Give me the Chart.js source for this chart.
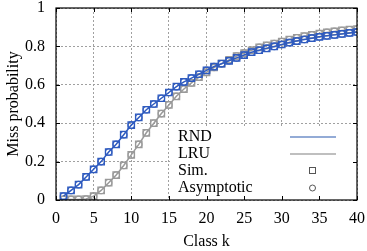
<!DOCTYPE html>
<html>
<head>
<meta charset="utf-8">
<script src="https://cdn.jsdelivr.net/npm/chart.js@4/dist/chart.umd.min.js"></script>
<style>
  html, body { margin: 0; padding: 0; background: #fff; }
  #wrap { width: 367px; height: 251px; }
</style>
</head>
<body>
<div id="wrap"><canvas id="missChart"></canvas></div>
<script>
// class index k
const classK = [1,2,3,4,5,6,7,8,9,10,11,12,13,14,15,16,17,18,19,20,
                21,22,23,24,25,26,27,28,29,30,31,32,33,34,35,36,37,38,39,40];
// miss probability, random replacement
const rndMiss = [0.02,0.05,0.08,0.12,0.16,0.20,0.25,0.29,0.34,0.39,
                 0.43,0.47,0.50,0.53,0.56,0.59,0.615,0.635,0.655,0.675,
                 0.695,0.71,0.725,0.74,0.755,0.77,0.78,0.79,0.80,0.81,
                 0.82,0.828,0.836,0.843,0.85,0.855,0.86,0.865,0.87,0.875];
// miss probability, LRU
const lruMiss = [0.003,0.003,0.003,0.005,0.02,0.05,0.09,0.13,0.18,0.235,
                 0.29,0.35,0.40,0.45,0.495,0.54,0.578,0.61,0.64,0.665,
                 0.69,0.71,0.73,0.75,0.765,0.78,0.795,0.805,0.815,0.825,
                 0.835,0.845,0.853,0.86,0.867,0.873,0.878,0.883,0.887,0.89];
const xTicks = [0,5,10,15,20,25,30,35,40];
const yTicks = [0,0.2,0.4,0.6,0.8,1];
const legendLabels = ['RND', 'LRU', 'Sim.', 'Asymptotic'];

const blue = '#2f5bbf';
const blueLegend = '#6f8fc8';
const gray = '#9a9a9a';
const serif = "'Liberation Serif', 'DejaVu Serif', serif";

const pts = (ys) => classK.map((k, i) => ({x: k, y: ys[i]}));

// frame, inward ticks and the gnuplot style key
const framePlugin = {
  id: 'frame',
  afterDraw(chart) {
    const {ctx, chartArea: a, scales: {x, y}} = chart;
    ctx.save();
    // key box
    const bx = 170, by = 127;
    ctx.fillStyle = '#fff';
    ctx.fillRect(bx, by, a.right - bx, a.bottom - by);
    ctx.font = '16px ' + serif;
    ctx.fillStyle = '#000';
    ctx.textBaseline = 'middle';
    ctx.textAlign = 'left';
    legendLabels.forEach((t, i) => ctx.fillText(t, 178, 137 + i * 17));
    ctx.lineWidth = 1.5;
    ctx.strokeStyle = blueLegend;
    ctx.beginPath(); ctx.moveTo(290, 137); ctx.lineTo(336, 137); ctx.stroke();
    ctx.strokeStyle = '#aaa';
    ctx.beginPath(); ctx.moveTo(290, 154); ctx.lineTo(336, 154); ctx.stroke();
    ctx.strokeStyle = '#555';
    ctx.lineWidth = 1;
    ctx.strokeRect(309.5, 167.5, 6, 6);
    ctx.beginPath(); ctx.arc(312.5, 188, 3, 0, Math.PI * 2); ctx.stroke();
    // ticks
    ctx.strokeStyle = '#000';
    ctx.lineWidth = 1;
    ctx.beginPath();
    xTicks.forEach(v => {
      const px = Math.round(x.getPixelForValue(v)) + 0.5;
      ctx.moveTo(px, a.bottom); ctx.lineTo(px, a.bottom - 4);
      ctx.moveTo(px, a.top); ctx.lineTo(px, a.top + 4);
    });
    yTicks.forEach(v => {
      const py = Math.round(y.getPixelForValue(v)) + 0.5;
      ctx.moveTo(a.left, py); ctx.lineTo(a.left + 4, py);
      ctx.moveTo(a.right, py); ctx.lineTo(a.right - 4, py);
    });
    ctx.stroke();
    ctx.lineWidth = 1.2;
    ctx.strokeRect(a.left, a.top, a.right - a.left, a.bottom - a.top);
    ctx.restore();
  }
};

new Chart(document.getElementById('missChart'), {
  type: 'scatter',
  data: {
    datasets: [
      { label: 'RND', data: pts(rndMiss), showLine: true, borderColor: blue, borderWidth: 1.5,
        pointStyle: 'circle', pointRadius: 3.2, pointBorderColor: blue, pointBackgroundColor: 'rgba(0,0,0,0)',
        pointBorderWidth: 1.2 },
      { label: 'RND sim', data: pts(rndMiss), showLine: false,
        pointStyle: 'rect', pointRadius: 4.6, pointBorderColor: blue, pointBackgroundColor: 'rgba(0,0,0,0)',
        pointBorderWidth: 1.2 },
      { label: 'LRU', data: pts(lruMiss), showLine: true, borderColor: gray, borderWidth: 1.5,
        pointStyle: 'circle', pointRadius: 3.2, pointBorderColor: gray, pointBackgroundColor: 'rgba(0,0,0,0)',
        pointBorderWidth: 1.2 },
      { label: 'LRU sim', data: pts(lruMiss), showLine: false,
        pointStyle: 'rect', pointRadius: 4.6, pointBorderColor: gray, pointBackgroundColor: 'rgba(0,0,0,0)',
        pointBorderWidth: 1.2 }
    ]
  },
  options: {
    responsive: true,
    maintainAspectRatio: false,
    animation: false,
    layout: { padding: 0 },
    plugins: { legend: { display: false }, tooltip: { enabled: false } },
    scales: {
      x: {
        type: 'linear', min: 0, max: 40,
        afterFit: s => { s.height = 51; s.paddingLeft = 0; s.paddingRight = 10; },
        afterBuildTicks: s => { s.ticks = xTicks.map(v => ({value: v})); },
        grid: { color: '#a0a0a0', drawTicks: false },
        border: { display: true, color: 'rgba(0,0,0,0)', dash: [2, 2] },
        ticks: { color: '#000', padding: 9, maxRotation: 0, font: { family: serif, size: 16 } },
        title: { display: true, text: 'Class k', color: '#000', padding: { top: 0, bottom: 0 },
                 font: { family: serif, size: 16 } }
      },
      y: {
        type: 'linear', min: 0, max: 1,
        afterFit: s => { s.width = 56; s.paddingTop = 8; s.paddingBottom = 0; },
        afterBuildTicks: s => { s.ticks = yTicks.map(v => ({value: v})); },
        grid: { color: '#a0a0a0', drawTicks: false },
        border: { display: true, color: 'rgba(0,0,0,0)', dash: [2, 2] },
        ticks: { color: '#000', padding: 11, font: { family: serif, size: 16 },
                 callback: v => String(+v.toFixed(1)) },
        title: { display: true, text: 'Miss probability', color: '#000', padding: { top: 4, bottom: 0 },
                 font: { family: serif, size: 16 } }
      }
    }
  },
  plugins: [framePlugin]
});
</script>
</body>
</html>
